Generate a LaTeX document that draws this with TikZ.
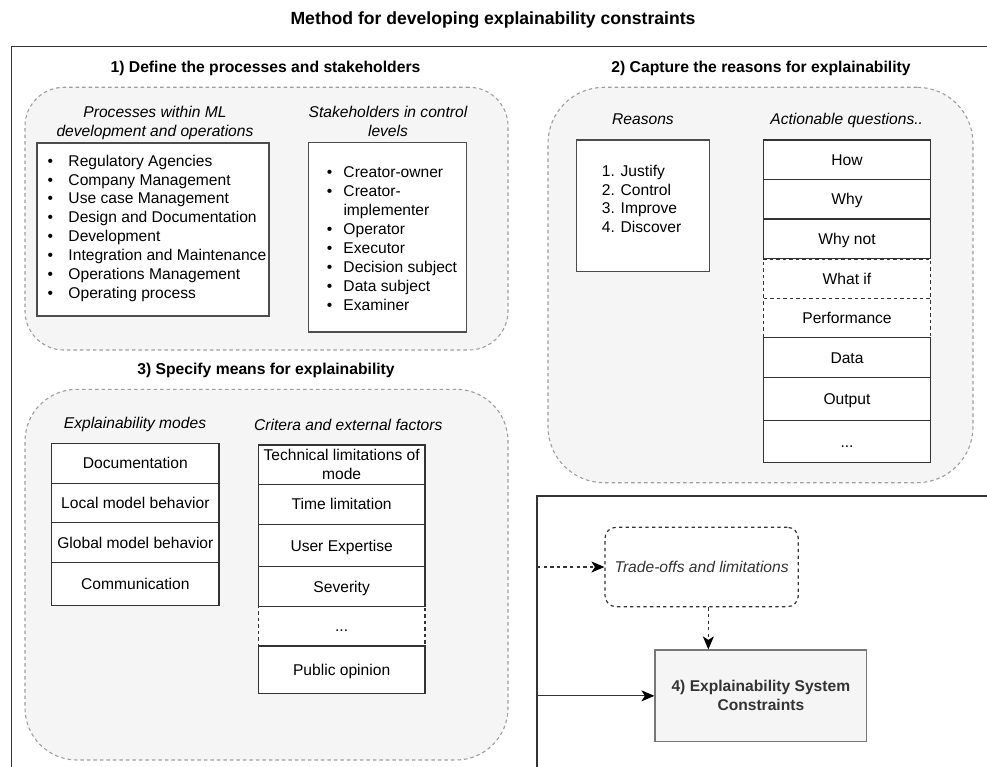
\documentclass[tikz,border=0pt]{standalone}
\usepackage{fontspec}
\setmainfont{Liberation Sans}
\usetikzlibrary{arrows.meta}

\definecolor{panelfill}{HTML}{F5F5F5}
\definecolor{panelline}{HTML}{9E9E9E}
\definecolor{ink}{HTML}{333333}
\definecolor{boxline}{HTML}{4D4D4D}
\definecolor{sysline}{HTML}{777777}

\tikzset{
  body/.style={font=\fontsize{15.6}{18.9}\selectfont},
  oneline/.style={text height=11.2pt, text depth=0pt},
  panel/.style={draw=panelline, fill=panelfill, line width=1.1pt,
    dash pattern=on 3.5pt off 3pt, inner sep=0pt},
  listbox/.style={draw=boxline, fill=white, line width=1.2pt, inner sep=0pt},
  cellbase/.style={draw=ink, fill=white, line width=1.2pt, inner sep=0pt,
    body, align=center},
  cell/.style={cellbase, oneline},
  dcell/.style={cell, dash pattern=on 3.5pt off 3pt},
  heading/.style={font=\bfseries\fontsize{15.7}{19}\selectfont, oneline, inner sep=0pt},
  subhead/.style={font=\itshape\fontsize{15.6}{18.9}\selectfont, inner sep=0pt, align=center},
  item/.style={body, inner sep=0pt, anchor=base west},
  frame/.style={draw=ink, line width=1.4pt},
  arrowtip/.style={-{Stealth[length=13pt,width=11pt,inset=3.5pt,color=black]}},
  link/.style={draw=ink, line width=1.2pt, arrowtip},
  dlink/.style={link, dash pattern=on 3.3pt off 3.3pt},
}

\begin{document}
\begin{tikzpicture}[x=1pt, y=-1pt]
\useasboundingbox (0,0) rectangle (987,767);
\fill[white] (0,0) rectangle (987,767);

% title
\node[font=\bfseries\fontsize{17.6}{21}\selectfont, text height=12.6pt, text depth=0pt, inner sep=0pt]
  (title) at (493,18.3) {Method for developing explainability constraints};

% outer frame
\draw[frame] (990,46.7) -- (11.7,46.7) -- (11.7,770);
\draw[frame] (990,496) -- (537,496) -- (537,770);

% section headings
\node[heading] (h1) at (265.5,66.7) {1) Define the processes and stakeholders};
\node[heading] (h2) at (761,66.7) {2) Capture the reasons for explainability};
\node[heading] (h3) at (266,369) {3) Specify means for explainability};

% grouping panels
\node[panel, rounded corners=39pt, minimum width=483pt, minimum height=262.7pt] (p1) at (266.5,218.65) {};
\node[panel, rounded corners=56pt, minimum width=425pt, minimum height=395.4pt] (p2) at (760.5,285) {};
\node[panel, rounded corners=52pt, minimum width=483pt, minimum height=370.7pt] (p3) at (266.5,574.65) {};

% ---- 1) processes and stakeholders
\node[subhead, anchor=north] (procT) at (155,105.6) {Processes within ML\\development and operations};
\node[subhead, anchor=north] (stakeT) at (388,105.6) {Stakeholders in control\\levels};

\node[listbox, minimum width=232pt, minimum height=173pt] (procbox) at (153,229.5) {};
\foreach \txt [count=\i] in {Regulatory Agencies, Company Management, Use case Management,
    Design and Documentation, Development, Integration and Maintenance,
    Operations Management, Operating process}
  \node[item] (proc\i) at ({47.3},{147.3+18.9*\i}) {\makebox[21pt][l]{\textbullet}\txt};

\node[listbox, minimum width=158.4pt, minimum height=189.3pt] (stakebox) at (387.5,237.35) {};
\foreach \b/\txt [count=\i] in {{\textbullet}/Creator-owner, {\textbullet}/Creator-,
    {}/implementer, {\textbullet}/Operator, {\textbullet}/Executor,
    {\textbullet}/Decision subject, {\textbullet}/Data subject, {\textbullet}/Examiner}
  \node[item] (stake\i) at ({326.6},{158.16+19.04*\i}) {\makebox[16.7pt][l]{\b}\txt};

% ---- 2) reasons
\node[subhead, oneline] (reasT) at (643,119.3) {Reasons};
\node[subhead, oneline] (questT) at (846.7,119.3) {Actionable questions..};

\node[listbox, minimum width=132.6pt, minimum height=131.7pt] (reasbox) at (643,205.85) {};
\foreach \txt [count=\i] in {1. Justify, 2. Control, 3. Improve, 4. Discover}
  \node[item] (reas\i) at ({601.7},{157.3+18.9*\i}) {\txt};

\node[cell, minimum width=167.4pt, minimum height=39.3pt] (qhow) at (847,159.65) {How};
\node[cell, minimum width=167.4pt, minimum height=39.7pt] (qwhy) at (847,199.15) {Why};
\node[cell, minimum width=167.4pt, minimum height=40pt] (qwhynot) at (847,239) {Why not};
\node[dcell, minimum width=167.4pt, minimum height=39.3pt] (qwhatif) at (847,278.65) {What if};
\node[dcell, minimum width=167.4pt, minimum height=39.4pt] (qperf) at (847,318) {Performance};
\node[cell, minimum width=167.4pt, minimum height=39.6pt] (qdata) at (847,357.5) {Data};
\node[cell, minimum width=167.4pt, minimum height=43.4pt] (qout) at (847,399) {Output};
\node[cell, minimum width=167.4pt, minimum height=42pt] (qmore) at (847,441.7) {...};

% ---- 3) means
\node[subhead, oneline] (modeT) at (135,423.3) {Explainability modes};
\node[subhead, oneline] (critT) at (348.3,425) {Critera and external factors};

\node[cell, minimum width=167.3pt, minimum height=40pt] (mdoc) at (135.35,463.3) {Documentation};
\node[cell, minimum width=167.3pt, minimum height=39.4pt] (mlocal) at (135.35,503) {Local model behavior};
\node[cell, minimum width=167.3pt, minimum height=39.6pt] (mglobal) at (135.35,542.5) {Global model behavior};
\node[cell, minimum width=167.3pt, minimum height=43.4pt] (mcomm) at (135.35,584) {Communication};

\node[cellbase, minimum width=166.7pt, minimum height=39.3pt] (ctech) at (341.65,464.65) {Technical limitations of\\mode};
\node[cell, minimum width=166.7pt, minimum height=40pt] (ctime) at (341.65,504.3) {Time limitation};
\node[cell, minimum width=166.7pt, minimum height=42.4pt] (cuser) at (341.65,545.5) {User Expertise};
\node[cell, minimum width=166.7pt, minimum height=40pt] (csev) at (341.65,586.7) {Severity};
\node[dcell, minimum width=166.7pt, minimum height=39.3pt] (cmore) at (341.65,626.35) {...};
\node[cell, minimum width=166.7pt, minimum height=47.3pt] (cpub) at (341.65,669.65) {Public opinion};

% ---- 4) constraints
\node[draw=ink, line width=1.2pt, dash pattern=on 3.3pt off 3.3pt, rounded corners=11pt,
  minimum width=193.3pt, minimum height=79.4pt, inner sep=0pt,
  font=\itshape\fontsize{15.6}{18.9}\selectfont, text=ink, oneline]
  (trade) at (701.65,567) {Trade-offs and limitations};
\node[draw=sysline, fill=panelfill, line width=1.2pt, minimum width=211.7pt, minimum height=91.7pt,
  inner sep=0pt, align=center, text=ink, font=\bfseries\fontsize{15.6}{19}\selectfont]
  (sys) at (760.85,695.85) {4) Explainability System\\Constraints};

\coordinate (from1) at (537,567);
\coordinate (from2) at (537,695.85);
\draw[dlink] (from1) -- (trade.west);
\draw[link] (from2) -- (sys.west);
\draw[dlink] ([xshift=6.7pt]trade.south) -- ([xshift=6.7pt]trade.south |- sys.north);

\end{tikzpicture}
\end{document}
